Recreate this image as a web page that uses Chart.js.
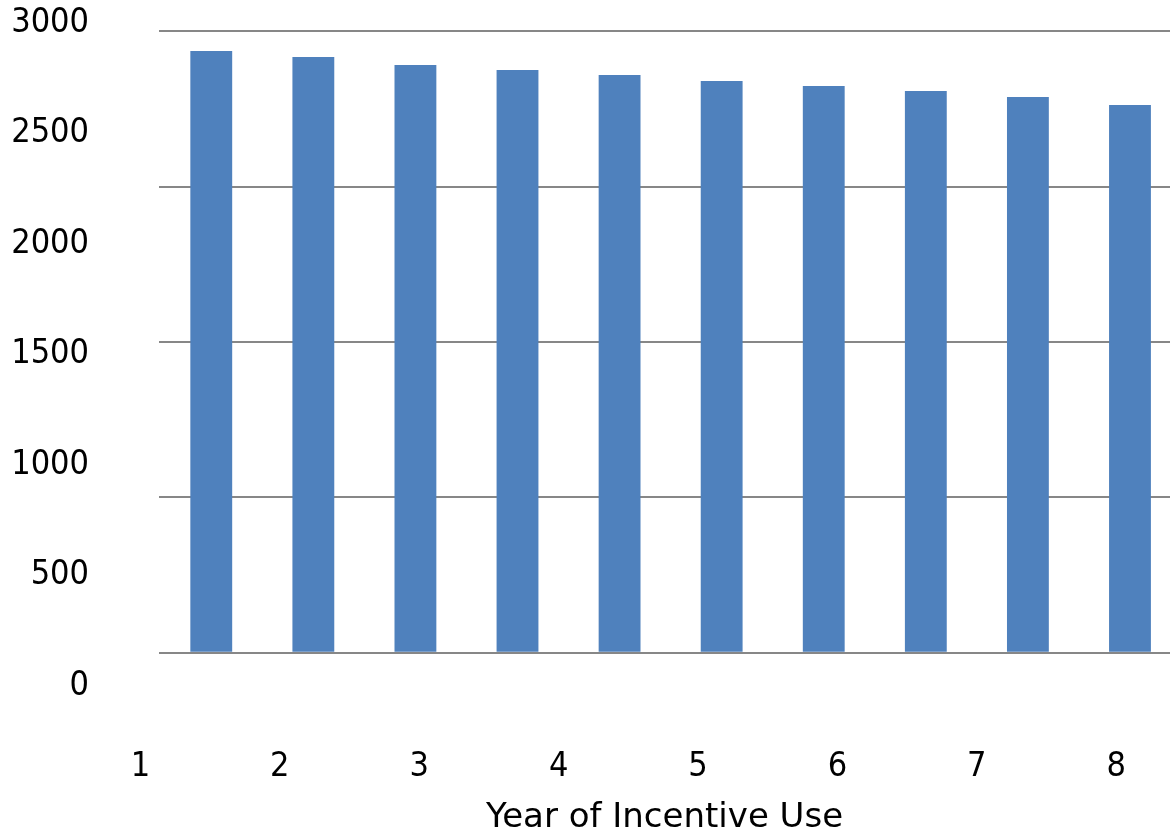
<!DOCTYPE html>
<html>
<head>
<meta charset="utf-8">
<script src="https://cdn.jsdelivr.net/npm/chart.js@4"></script>
<style>
  html, body { margin: 0; padding: 0; background: #ffffff; }
  #wrap { width: 1170px; height: 835px; position: relative; }
</style>
</head>
<body>
<div id="wrap"><canvas id="c"></canvas></div>
<script>
// ---- data ----
const categories = [1, 2, 3, 4, 5, 6, 7, 8, 9, 10];
const values = [2906, 2877, 2838, 2814, 2790, 2761, 2737, 2713, 2684, 2645];
const xTickLabels = [1, 2, 3, 4, 5, 6, 7, 8];
const yTickLabels = [0, 500, 1000, 1500, 2000, 2500, 3000];
const gridValues = [0, 750, 1500, 2250, 3000];
const xTitle = 'Year of Incentive Use';

// ---- styles ----
const FONT = { family: "'DejaVu Sans Condensed', 'DejaVu Sans', sans-serif", size: 34 };
const TITLE_FONT = { family: "'DejaVu Sans', sans-serif", size: 34, lineHeight: 1.0 };
const BAR_COLOR = '#4F81BD';
const GRID_COLOR = '#878787';

function noPad(s) { s.paddingTop = 0; s.paddingBottom = 0; s.paddingLeft = 0; s.paddingRight = 0; }

new Chart(document.getElementById('c'), {
  type: 'bar',
  data: {
    datasets: [{
      data: categories.map((c, i) => ({ x: c, y: values[i] })),
      backgroundColor: BAR_COLOR,
      borderWidth: 0,
      barPercentage: 0.41,
      categoryPercentage: 1.0,
      xAxisID: 'x',
      yAxisID: 'y'
    }]
  },
  options: {
    responsive: true,
    maintainAspectRatio: false,
    animation: false,
    layout: { padding: { top: 23, left: 0, right: 0, bottom: 0 } },
    plugins: { legend: { display: false }, tooltip: { enabled: false } },
    scales: {
      x: {
        type: 'linear', min: 0.488, max: 10.392, display: false, offset: false
      },
      x2: {
        type: 'linear', position: 'bottom', min: 1.133, max: 8.386, offset: false,
        grid: { display: false, drawTicks: false },
        border: { display: false },
        ticks: { autoSkip: false, padding: 61, font: FONT, color: '#000000', callback: v => String(v) },
        afterBuildTicks: s => { s.ticks = xTickLabels.map(v => ({ value: v })); },
        afterFit: s => { s.height = 149; noPad(s); },
        title: { display: true, text: xTitle, font: TITLE_FONT, color: '#000000', padding: { top: 0, bottom: 0 } }
      },
      y: {
        type: 'linear', position: 'left', min: -160.8, max: 3041,
        grid: { color: GRID_COLOR, lineWidth: 2, drawTicks: false },
        border: { display: false },
        ticks: { display: false },
        afterBuildTicks: s => { s.ticks = gridValues.map(v => ({ value: v })); },
        afterFit: s => { s.width = 0; noPad(s); }
      },
      y2: {
        type: 'linear', position: 'left', min: 0, max: 3000,
        grid: { display: false, drawTicks: false },
        border: { display: false },
        ticks: { padding: 70, font: FONT, color: '#000000', callback: v => String(v) },
        afterBuildTicks: s => { s.ticks = yTickLabels.map(v => ({ value: v })); },
        afterFit: s => { s.width = 159; noPad(s); }
      }
    }
  }
});
</script>
</body>
</html>
